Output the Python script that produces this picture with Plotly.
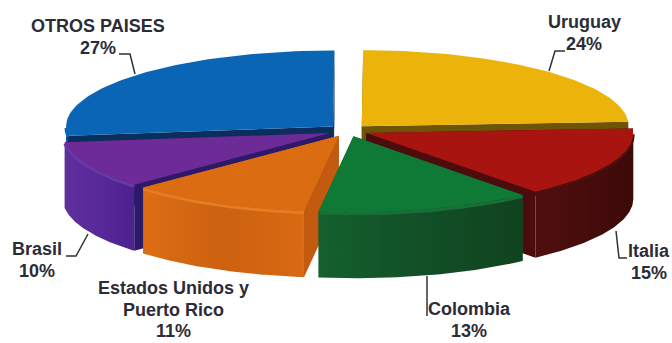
import numpy as np
import plotly.graph_objects as go

# Share of each destination, clockwise from twelve o'clock
countries = ["Uruguay", "Italia", "Colombia", "Estados Unidos y<br>Puerto Rico", "Brasil", "OTROS PAISES"]
shares = [24, 15, 13, 11, 10, 27]

top_colors = ["#ecb30a", "#a81510", "#0e7a35", "#dc6c12", "#6d2b98", "#0b65b5"]
edge_colors = ["#6f5408", "#4a0c0c", "#0e5a28", "#c25a10", "#2c1a68", "#0a2f5c"]
wall_left = ["#8a6a08", "#4f0f0f", "#14602e", "#dc6d14", "#5f2f9c", "#0a4a88"]
wall_mid = ["#8a6a08", "#470c0c", "#124f27", "#cc6110", "#57289a", "#0a4a88"]
wall_right = ["#8a6a08", "#3d0909", "#10431f", "#d96a12", "#4b228e", "#0a4a88"]
rim_light = ["#ecb30a", "#4f0f0f", "#1a6e38", "#e67c24", "#6a38a4", "#0b65b5"]

# Centre of the first text line of each label, and its leader polyline
label_pos = [(584, 22), (649, 251), (469, 309), (173, 288), (37, 249), (98, 26)]
LINE_STEP = 21.5
leaders = [
    [(549, 71), (555, 51), (565, 51)],
    [(616, 231), (619, 258), (627, 258)],
    [(427, 276), (427, 316)],
    None,
    [(88, 234), (76, 256), (66, 256)],
    [(135, 74), (130, 54), (119, 54)],
]

# Projection of the tilted pie onto the plot
CX, CY = 348, 130.5
RX, RY = 267, 76
EXPLODE_X, EXPLODE_Y = 20, 6
DEPTH = 66
START_ANGLE = np.radians(0.3)

fractions = START_ANGLE + np.cumsum([0] + shares) / sum(shares) * 2 * np.pi
fig = go.Figure()


def rim(cx, cy, a0, a1, n=70):
    a = np.linspace(a0, a1, n)
    return cx + RX * np.sin(a), cy - RY * np.cos(a)


def poly(xs, ys, color=None, gradient=None):
    kw = dict(fillgradient=gradient) if gradient else dict(fillcolor=color)
    fig.add_trace(go.Scatter(x=xs, y=ys, mode="lines", fill="toself",
                             line=dict(width=0), hoverinfo="skip", **kw))


def draw_slice(i):
    a0, a1 = fractions[i], fractions[i + 1]
    mid = (a0 + a1) / 2
    cx = CX + EXPLODE_X * np.sin(mid)
    cy = CY - EXPLODE_Y * np.cos(mid)

    # Cut faces, seen only where the radial edge faces the viewer
    for a in (a0, a1):
        ex, ey = rim(cx, cy, a, a, 1)
        poly([cx, ex[0], ex[0], cx, cx], [cy, ey[0], ey[0] + DEPTH, cy + DEPTH, cy], edge_colors[i])

    # Outer wall, front half only
    lo, hi = max(a0, np.pi / 2), min(a1, 3 * np.pi / 2)
    if lo < hi:
        x, y = rim(cx, cy, lo, hi)
        grad = dict(type="horizontal", colorscale=[[0, wall_left[i]], [0.5, wall_mid[i]], [1, wall_right[i]]])
        poly(np.r_[x, x[::-1], x[0]], np.r_[y, y[::-1] + DEPTH, y[0]], gradient=grad)
        fig.add_trace(go.Scatter(x=x, y=y + 1.5, mode="lines", hoverinfo="skip",
                                 line=dict(color=rim_light[i], width=3)))

    # Top face
    x, y = rim(cx, cy, a0, a1)
    poly(np.r_[cx, x, cx], np.r_[cy, y, cy], top_colors[i])


# Back slices first so that the nearer ones overlap them
for i in (5, 0, 4, 1, 3, 2):
    draw_slice(i)

for pts in leaders:
    if pts:
        fig.add_trace(go.Scatter(x=[p[0] for p in pts], y=[p[1] for p in pts], mode="lines",
                                 hoverinfo="skip", line=dict(color="#303038", width=1.5)))

# Each text line is placed on its own so the line spacing stays tight
for name, share, (lx, ly) in zip(countries, shares, label_pos):
    for row, line in enumerate(name.split("<br>") + [f"{share}%"]):
        fig.add_annotation(x=lx, y=ly + row * LINE_STEP, xref="x", yref="y", text=f"<b>{line}</b>",
                           showarrow=False, xanchor="center", yanchor="middle",
                           font=dict(family="Liberation Sans", size=18, color="#2c2c36"))

fig.update_layout(
    width=672, height=343, margin=dict(l=0, r=0, t=0, b=0), showlegend=False,
    paper_bgcolor="white", plot_bgcolor="white",
    xaxis=dict(range=[0, 672], visible=False, fixedrange=True),
    yaxis=dict(range=[343, 0], visible=False, fixedrange=True),
)
fig.write_html("out.html", config={"displayModeBar": False})
